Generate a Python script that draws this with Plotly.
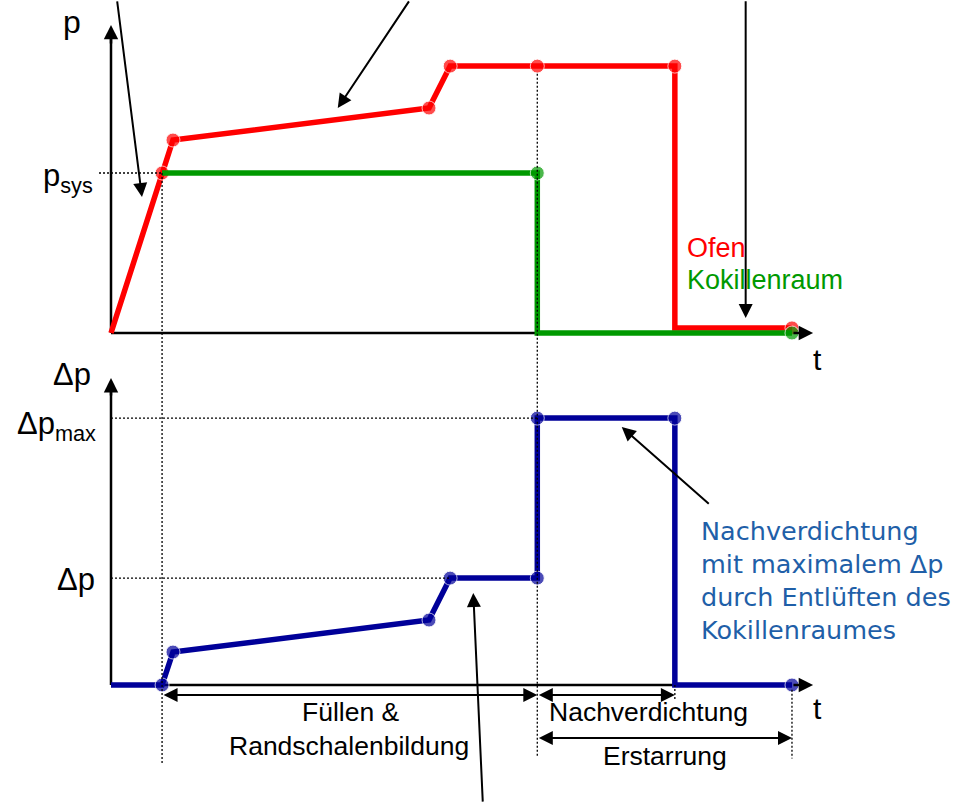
import plotly.graph_objects as go

# ---------------- data ----------------
# time points (arbitrary units)
t_red = [0, 0.75, 0.91, 4.67, 4.98, 6.26, 8.28, 8.28, 10.0]
p_red = [0, 5.0, 6.03, 7.03, 8.34, 8.34, 8.34, 0.16, 0.16]
red_marker = [0, 14, 14, 14, 14, 14, 14, 0, 14]

t_green = [0.75, 6.26, 6.26, 10.0]
p_green = [5.0, 5.0, 0, 0]
green_marker = [0, 14, 0, 14]

t_blue = [0, 0.75, 0.91, 4.67, 4.98, 6.26, 6.26, 8.28, 8.28, 10.0]
dp_blue = [0, 0, 1.03, 2.03, 3.34, 3.34, 8.34, 8.34, 0, 0]
blue_marker = [0, 14, 14, 14, 14, 14, 14, 14, 0, 14]

p_sys = 5.0
dp_level = 3.34
dp_max = 8.34
t_fill = 0.75
t_slope_end = 4.98
t_switch = 6.26
t_vent_end = 8.28
t_end = 10.0

RED = "#ff0000"
GREEN = "#009900"
BLUE = "#000099"
TXT_BLUE = "#1f5fa8"
SANS = "Liberation Sans, Arial, sans-serif"
VERD = "DejaVu Sans, Verdana, sans-serif"

X_RANGE = [-1.630, 12.761]
Y_RANGE = [-14.6875, 10.406]
Y2_RANGE = [-3.6875, 21.406]

fig = go.Figure()

fig.add_trace(go.Scatter(x=t_red, y=p_red, mode="lines+markers",
                         line=dict(color=RED, width=5.5),
                         marker=dict(color=RED, size=red_marker),
                         showlegend=False, hoverinfo="skip"))
fig.add_trace(go.Scatter(x=t_green, y=p_green, mode="lines+markers",
                         line=dict(color=GREEN, width=5.5),
                         marker=dict(color=GREEN, size=green_marker),
                         showlegend=False, hoverinfo="skip"))
fig.add_trace(go.Scatter(x=t_blue, y=dp_blue, mode="lines+markers", yaxis="y2",
                         line=dict(color=BLUE, width=5.5),
                         marker=dict(color=BLUE, size=blue_marker),
                         showlegend=False, hoverinfo="skip"))

shapes = []
# axis lines (below traces)
def axline(x0, y0, x1, y1, yref):
    shapes.append(dict(type="line", xref="x", yref=yref, x0=x0, y0=y0, x1=x1, y1=y1,
                       line=dict(color="black", width=2.5), layer="below"))

axline(0, 0, 0, 9.3, "y")
axline(0, 0, 10.0, 0, "y")
axline(0, 0, 0, 9.3, "y2")
axline(0, 0, 10.0, 0, "y2")

DOT = "2px,2px"
def dotline(x0, y0, x1, y1, yref):
    shapes.append(dict(type="line", xref="x", yref=yref, x0=x0, y0=y0, x1=x1, y1=y1,
                       line=dict(color="black", width=1.3, dash=DOT), layer="above"))

dotline(-0.176, p_sys, t_fill, p_sys, "y")
dotline(t_fill, p_sys, t_fill, -13.5, "y")
dotline(t_switch, 8.1, t_switch, -13.25, "y")
dotline(0, dp_max, t_switch, dp_max, "y2")
dotline(0, dp_level, t_slope_end, dp_level, "y2")
dotline(t_vent_end, 0, t_vent_end, -0.5, "y2")
dotline(t_end, -0.15, t_end, -2.3, "y2")

annotations = []
def arrow(x, y, ax, ay, yref, width=2, size=1.4, side="end"):
    annotations.append(dict(x=x, y=y, ax=ax, ay=ay, xref="x", yref=yref,
                            axref="x", ayref=yref, text="", showarrow=True,
                            arrowhead=2, arrowsize=size, arrowwidth=width,
                            arrowside=side, arrowcolor="black", startarrowhead=2,
                            startarrowsize=size))

# axis arrow heads
arrow(0, 9.625, 0, 9.0, "y", width=2.5, size=1.15)
arrow(10.31, 0, 10.0, 0, "y", width=2.5, size=1.15)
arrow(0, 9.59, 0, 9.0, "y2", width=2.5, size=1.15)
arrow(10.31, 0, 10.0, 0, "y2", width=2.5, size=1.15)

# pointer arrows
arrow(0.455, 4.25, 0.088, 10.41, "y")
arrow(3.33, 7.03, 4.39, 10.41, "y")
arrow(9.32, 0.47, 9.32, 10.41, "y")
arrow(7.50, 8.06, 8.80, 5.625, "y2")
arrow(5.32, 2.875, 5.46, -3.69, "y2")

# dimension arrows
arrow(t_switch, -0.31, t_fill, -0.31, "y2", side="end+start")
arrow(t_vent_end, -0.31, t_switch, -0.31, "y2", side="end+start")
arrow(t_end, -1.66, t_switch, -1.66, "y2", side="end+start")

def text(x, y, s, yref, size=26.5, color="black", family=SANS, xanchor="center", yanchor="middle", align="center"):
    annotations.append(dict(x=x, y=y, xref="x", yref=yref, text=s, showarrow=False,
                            font=dict(size=size, color=color, family=family),
                            xanchor=xanchor, yanchor=yanchor, align=align))

text(-0.573, 9.72, "p", "y", size=32)
text(-0.235, 4.85, "p<sub>sys</sub>", "y", size=31, xanchor="right")
text(10.37, -0.84, "t", "y", size=30)
text(8.43, 2.66, "Ofen", "y", size=27, color=RED, xanchor="left")
text(8.43, 1.66, "Kokillenraum", "y", size=27, color=GREEN, xanchor="left")

text(-0.573, 9.69, "Δp", "y2", size=31)
text(-0.19, 8.1, "Δp<sub>max</sub>", "y2", size=31, xanchor="right")
text(-0.2, 3.3, "Δp", "y2", size=31, xanchor="right")
text(10.37, -0.72, "t", "y2", size=30)
text(3.52, -0.84, "Füllen &", "y2")
text(3.50, -1.91, "Randschalenbildung", "y2")
text(7.90, -0.84, "Nachverdichtung", "y2")
text(8.135, -2.22, "Erstarrung", "y2")
text(8.63, 3.28, "Nachverdichtung<br>mit maximalem Δp<br>durch Entlüften des<br>Kokillenraumes",
     "y2", size=25.5, color=TXT_BLUE, family=VERD, xanchor="left", align="left")

fig.update_layout(
    width=980, height=803,
    margin=dict(l=0, r=0, t=0, b=0, pad=0),
    paper_bgcolor="white", plot_bgcolor="white",
    xaxis=dict(range=X_RANGE, visible=False, fixedrange=True),
    yaxis=dict(range=Y_RANGE, visible=False, domain=[0, 1], fixedrange=True),
    yaxis2=dict(range=Y2_RANGE, visible=False, overlaying="y", anchor="x", fixedrange=True),
    shapes=shapes,
    annotations=annotations,
    showlegend=False,
)

fig.write_html("out.html", config={"displayModeBar": False},
               post_script="document.body.style.margin='0';")
